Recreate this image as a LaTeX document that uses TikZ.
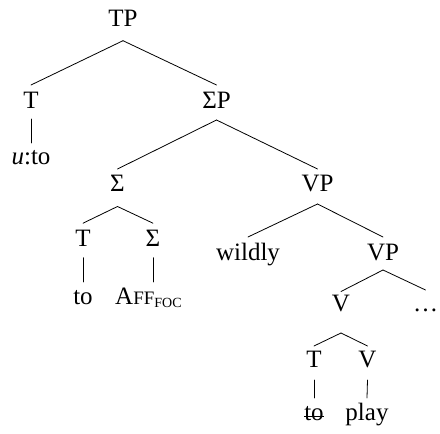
\documentclass[tikz,border=0pt]{standalone}
\usepackage{fontspec}
\setmainfont{Liberation Serif}
\begin{document}
\begin{tikzpicture}[x=1pt,y=1pt,
  lab/.style={inner sep=0pt, anchor=base, font=\fontsize{25}{30}\selectfont},
  br/.style={line width=0.8pt, line cap=round}]
\useasboundingbox (0,0) rectangle (440,434);
% labels
\node[lab] (TP) at (123,407.3) {TP};
\node[lab] (T1) at (31,325) {T};
\node[lab] (SP) at (216.5,325) {ΣP};
\node[lab] (uto) at (31,269) {\textit{u}:to};
\node[lab] (S1) at (117.5,242) {Σ};
\node[lab] (VP1) at (317.5,242) {VP};
\node[lab] (T2) at (83,187.3) {T};
\node[lab] (S2) at (153,187.3) {Σ};
\node[lab] (to1) at (83,129) {to};
\node[lab,anchor=base west] (aff) at (115,129) {A{\fontsize{19}{20}\selectfont FF}\raisebox{-2.5pt}{\fontsize{14}{15}\selectfont FOC}};
\node[lab] (wildly) at (248,173) {wildly};
\node[lab] (VP2) at (383,173) {VP};
\node[lab] (V1) at (341,122) {V};
\node[lab] (dots) at (425.5,122) {…};
\node[lab] (T3) at (314,66) {T};
\node[lab] (V2) at (367.5,66) {V};
\node[lab] (to2) at (314,13) {to};
\node[lab] (play) at (367,13) {play};
% branches
\draw[br] ([yshift=-14pt]TP.base) -- ([yshift=24pt]T1.base);
\draw[br] ([yshift=-14pt]TP.base) -- ([yshift=24pt]SP.base);
\draw[br] ([yshift=-10pt]T1.base) -- ([yshift=22pt]uto.base);
\draw[br] ([yshift=-11pt]SP.base) -- ([yshift=23pt]S1.base);
\draw[br] ([yshift=-11pt]SP.base) -- ([yshift=23pt]VP1.base);
\draw[br] ([yshift=-14.5pt]S1.base) -- ([yshift=23.5pt]T2.base);
\draw[br] ([yshift=-14.5pt]S1.base) -- ([yshift=23.5pt]S2.base);
\draw[br] ([yshift=-11pt]T2.base) -- ([yshift=23pt]to1.base);
\draw[br] ([yshift=-11pt]S2.base) -- ([yshift=23pt]S2.base |- aff.base);
\draw[br] ([yshift=-12pt]VP1.base) -- ([yshift=24pt]wildly.base);
\draw[br] ([yshift=-12pt]VP1.base) -- ([yshift=24pt]VP2.base);
\draw[br] ([yshift=-9pt]VP2.base) -- ([yshift=20.5pt]V1.base);
\draw[br] ([yshift=-9pt]VP2.base) -- ([yshift=22pt]dots.base);
\draw[br] ([yshift=-21pt]V1.base) -- ([yshift=22pt]T3.base);
\draw[br] ([yshift=-21pt]V1.base) -- ([yshift=22pt]V2.base);
\draw[br] ([yshift=-12pt]T3.base) -- ([yshift=23pt]to2.base);
\draw[br] ([yshift=-12pt]V2.base) -- ([yshift=23pt]play.base);
% strike-through of the lower "to"
\draw[line width=0.9pt] ([yshift=4.8pt]to2.base west) -- ([yshift=4.8pt]to2.base east);
\end{tikzpicture}
\end{document}
